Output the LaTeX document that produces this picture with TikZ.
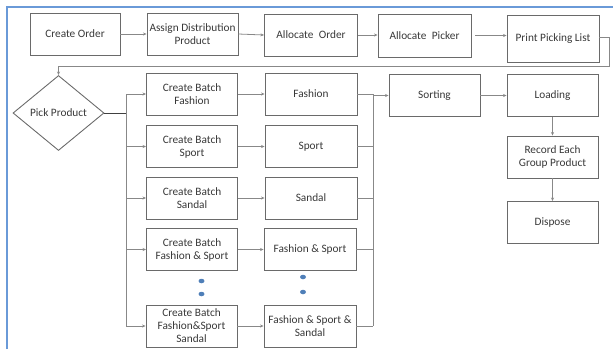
\documentclass[tikz,border=0pt]{standalone}
\usepackage{fontspec}
\setmainfont{Carlito}
\usetikzlibrary{arrows.meta,shapes.geometric}
\definecolor{boxline}{HTML}{6A6A6A}
\definecolor{conn}{HTML}{888888}
\definecolor{txt}{HTML}{383838}
\definecolor{frameblue}{HTML}{6A9AD8}
\definecolor{dotblue}{HTML}{4F7FB8}
\begin{document}
\begin{tikzpicture}[x=1pt,y=-1pt,
  proc/.style={draw=boxline,line width=0.9pt,rectangle,minimum width=91pt,minimum height=42pt,
    inner sep=0.5pt,align=center,text=txt,font=\fontsize{11.3}{13}\selectfont},
  dec/.style={draw=boxline,line width=0.9pt,diamond,minimum width=91pt,minimum height=75pt,
    inner sep=0pt,aspect=1.2,text=txt,font=\fontsize{11.3}{13}\selectfont},
  conn/.style={draw=conn,line width=0.8pt,-{Stealth[length=3.5pt,width=3pt]}},
  plain/.style={draw=conn,line width=0.8pt},
  bus/.style={draw=black!75,line width=0.9pt},
  vdot/.style={ellipse,fill=dotblue,minimum width=6pt,minimum height=4.5pt,inner sep=0pt}]
\useasboundingbox (0,0) rectangle (613,349);
% frame lines
\draw[frameblue,line width=1.3pt] (7,349) -- (7,7) -- (613,7);
% top row
\node[proc,minimum width=90pt] (co) at (75,34) {Create Order};
\node[proc] (ad) at (192.5,34) {Assign Distribution\\Product};
\node[proc,minimum width=93pt] (ao) at (311,35) {Allocate\hspace{0.25em} Order};
\node[proc,minimum width=93pt,minimum height=43pt] (ap) at (424.5,35.5) {Allocate\hspace{0.25em} Picker};
\node[proc,minimum width=92pt,minimum height=47pt] (pl) at (553,38.5) {Print Picking List};
% decision
\node[dec] (pp) at (58.5,113) {Pick Product};
% create batch column
\node[proc] (cb1) at (192,94) {Create Batch\\Fashion};
\node[proc] (cb2) at (192,146.5) {Create Batch\\Sport};
\node[proc] (cb3) at (192,198) {Create Batch\\Sandal};
\node[proc] (cb4) at (192,249.5) {Create Batch\\Fashion \& Sport};
\node[proc] (cb5) at (191.5,326) {Create Batch\\Fashion\&Sport\\Sandal};
% product column
\node[proc,minimum width=92pt] (p1) at (311,94) {Fashion};
\node[proc,minimum width=92pt] (p2) at (311,146.5) {Sport};
\node[proc,minimum width=92pt] (p3) at (311,198) {Sandal};
\node[proc,minimum width=92pt] (p4) at (310,249) {Fashion \& Sport};
\node[proc,minimum width=92pt] (p5) at (310,326) {Fashion \& Sport \&\\Sandal};
% dots
\node[vdot] (d1) at (201.5,281) {};
\node[vdot] (d2) at (201.5,294) {};
\node[vdot] (d3) at (303,277) {};
\node[vdot] (d4) at (303,292) {};
% right part
\node[proc] (so) at (434.5,95.5) {Sorting};
\node[proc] (lo) at (552.5,95.5) {Loading};
\node[proc] (rg) at (552.5,157) {Record Each\\Group Product};
\node[proc] (di) at (552.5,222.5) {Dispose};
% top row connectors
\draw[conn] (co.east) -- (ad.west |- co.east);
\draw[conn] (ad.east) -- (ao.west);
\draw[conn] (ao.east) -- (ap.west |- ao.east);
\draw[conn] (ap.east) ++(4,0) coordinate (apx) -- (pl.west |- apx);
\coordinate (lr) at (609,66);
\draw[conn] (pl.east |- 0,37) -- (609,37) -- (lr) -- (pp.north |- lr) -- (pp.north);
% left bus
\coordinate (lb) at (126,113);
\draw[bus] (pp.east) -- (lb);
\draw[plain] (lb) -- (126,94) (lb) -- (126,326);
\foreach \n in {cb1,cb2,cb3,cb4,cb5}{
  \draw[conn] (126,0 |- \n.west) -- (\n.west);
}
% middle arrows
\foreach \a/\b in {cb1/p1,cb2/p2,cb3/p3,cb4/p4,cb5/p5}{
  \draw[conn] (\a.east) -- (\b.west |- \a.east);
}
% right bus
\coordinate (rb) at (373,95.5);
\draw[plain] (373,94) -- (373,326);
\foreach \n in {p1,p2,p3,p4,p5}{
  \draw[plain] (\n.east) -- (373,0 |- \n.east);
}
\draw[conn] (rb) -- (so.west);
\draw[conn] (so.east) -- (lo.west);
\draw[conn] (lo.south) -- (rg.north);
\draw[conn] (rg.south) -- (di.north);
\end{tikzpicture}
\end{document}
